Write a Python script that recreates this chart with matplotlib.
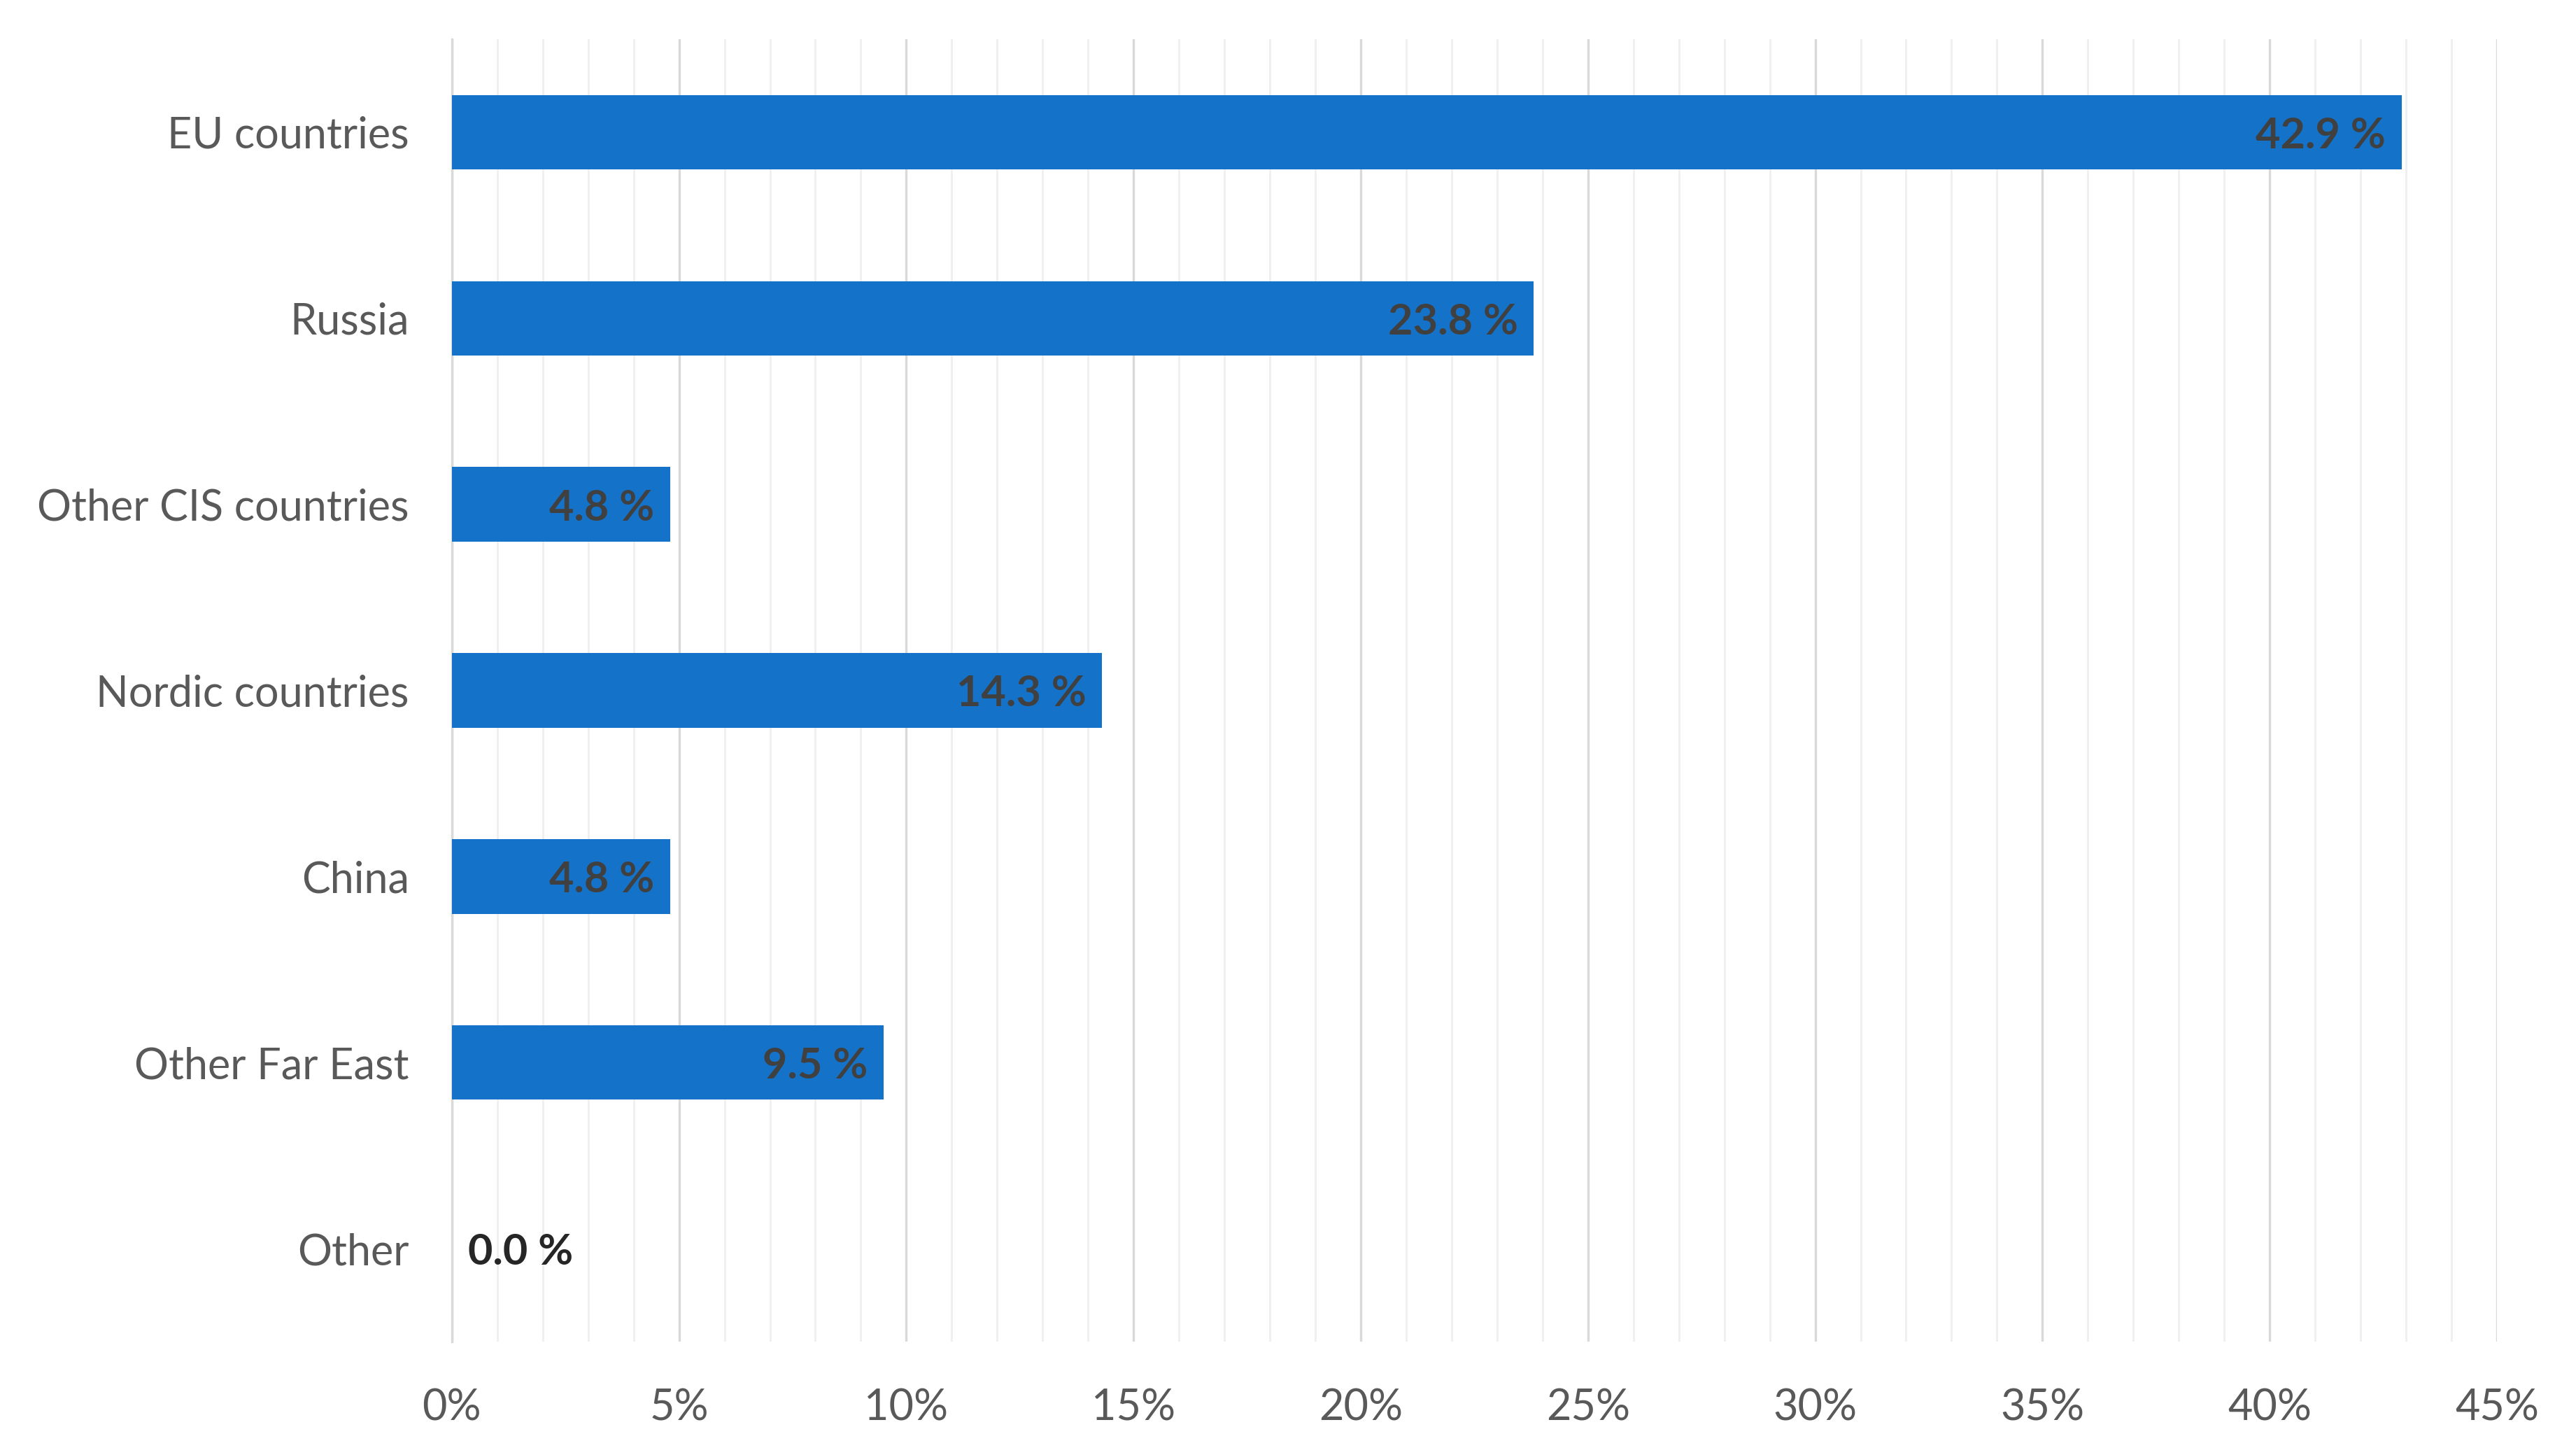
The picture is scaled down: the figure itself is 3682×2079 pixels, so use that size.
import matplotlib
matplotlib.use("Agg")
import matplotlib.pyplot as plt
from matplotlib.ticker import MultipleLocator, PercentFormatter

categories = ["EU countries", "Russia", "Other CIS countries", "Nordic countries",
              "China", "Other Far East", "Other"]
values = [42.9, 23.8, 4.8, 14.3, 4.8, 9.5, 0.0]
xticks = [0, 5, 10, 15, 20, 25, 30, 35, 40, 45]

plt.rcParams['font.family'] = ['Lato', 'DejaVu Sans']

fig = plt.figure(figsize=(18.41, 10.395), dpi=200)
ax = fig.add_axes([0.1754, 0.0779, 0.9693 - 0.1754, 0.9731 - 0.0779])

ypos = list(range(len(categories)))
bars = ax.barh(ypos, values, height=0.4, color="#1473C9", zorder=3)
ax.set_ylim(len(categories) - 0.5, -0.5)
ax.set_xlim(0, 45)
ax.set_yticks(ypos)
ax.set_yticklabels(categories)
ax.set_xticks(xticks)
ax.xaxis.set_major_formatter(PercentFormatter(decimals=0))
ax.xaxis.set_minor_locator(MultipleLocator(1))

ax.grid(axis='x', which='major', color="#D9D9D9", linewidth=1.2, zorder=0)
ax.grid(axis='x', which='minor', color="#EFEFEF", linewidth=1.0, zorder=0)
for s in ["top", "right", "bottom"]:
    ax.spines[s].set_visible(False)
ax.spines["left"].set_color("#D9D9D9")
ax.spines["left"].set_linewidth(1.2)

ax.tick_params(axis='both', which='both', length=0, labelsize=22, labelcolor="#595959")
ax.tick_params(axis='y', pad=22)
ax.tick_params(axis='x', pad=24)

for b, v in zip(bars, values):
    y = b.get_y() + b.get_height() / 2
    if v > 0:
        ax.annotate(f"{v:.1f} %", xy=(v, y), xytext=(-8, 0), textcoords="offset points",
                    ha="right", va="center_baseline", fontsize=22, fontweight="bold",
                    color="#404040", zorder=4)
    else:
        ax.annotate(f"{v:.1f} %", xy=(v, y), xytext=(8.5, 0), textcoords="offset points",
                    ha="left", va="center_baseline", fontsize=22, fontweight="bold",
                    color="#262626", zorder=4)

fig.savefig("out.png", dpi=200, facecolor="white")
